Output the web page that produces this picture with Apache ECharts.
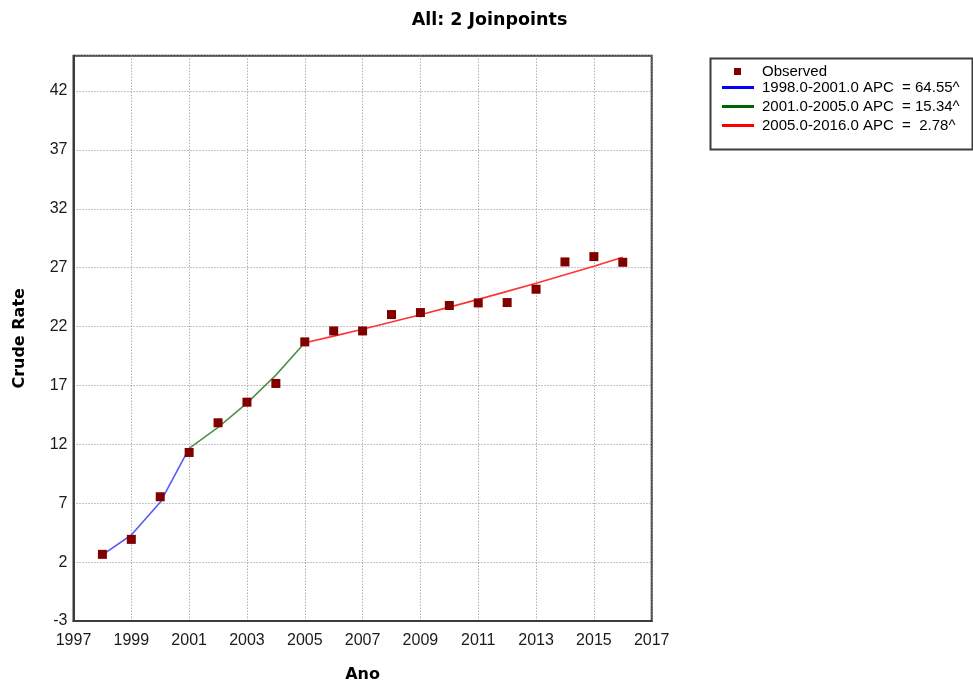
<!DOCTYPE html>
<html>
<head>
<meta charset="utf-8">
<title>All: 2 Joinpoints</title>
<script src="https://cdn.jsdelivr.net/npm/echarts@6/dist/echarts.min.js"></script>
<style>
  html, body { margin: 0; padding: 0; background: #ffffff; }
  #chart { width: 973px; height: 683px; }
</style>
</head>
<body>
<div id="chart"></div>
<script>
// Observed crude rates by year
const years = [1998, 1999, 2000, 2001, 2002, 2003, 2004, 2005, 2006, 2007,
               2008, 2009, 2010, 2011, 2012, 2013, 2014, 2015, 2016];
const observed = [2.66, 3.93, 7.55, 11.31, 13.83, 15.58, 17.17, 20.70, 21.63, 21.63,
                  23.02, 23.19, 23.79, 24.01, 24.04, 25.17, 27.49, 27.94, 27.46];

// Fitted joinpoint segments (year, modelled rate)
const seg1Years = [1998, 1999, 2000, 2001];
const seg1Fit = [2.61, 4.30, 7.08, 11.65];
const seg2Years = [2001, 2002, 2003, 2004, 2005];
const seg2Fit = [11.65, 13.44, 15.50, 17.88, 20.62];
const seg3Years = [2005, 2006, 2007, 2008, 2009, 2010, 2011, 2012, 2013, 2014, 2015, 2016];
const seg3Fit = [20.62, 21.19, 21.78, 22.39, 23.01, 23.65, 24.31, 24.99, 25.68, 26.40, 27.13, 27.89];

const segNames = [
  '1998.0-2001.0 APC  = 64.55^',
  '2001.0-2005.0 APC  = 15.34^',
  '2005.0-2016.0 APC  =  2.78^'
];
const legendColors = ['#0000ff', '#006400', '#ff0000'];
const plotColors = ['#5858ff', '#4f914f', '#ff3434'];
const markerColor = '#800000';

const zip = (xs, ys) => xs.map((x, i) => [x, ys[i]]);

const boldFont = "'DejaVu Sans', Verdana, sans-serif";
const plainFont = "'Liberation Sans', Arial, sans-serif";

const chart = echarts.init(document.getElementById('chart'), null, { renderer: 'canvas' });

const gridLine = { show: true, lineStyle: { color: '#8c8c8c', width: 1, type: [1, 2] } };

chart.setOption({
  animation: false,
  backgroundColor: '#ffffff',
  title: {
    text: 'All: 2 Joinpoints',
    left: 484.5,
    textAlign: 'center',
    top: 6,
    textStyle: { fontFamily: boldFont, fontWeight: 'bold', fontSize: 17.5, color: '#000' }
  },
  grid: {
    left: 73.5, top: 55.7, right: 321.3, bottom: 62,
    outerBoundsMode: 'none',
    show: true, borderColor: '#3c3c3c', borderWidth: 2, backgroundColor: 'transparent'
  },
  xAxis: {
    type: 'value',
    min: 1997, max: 2017, interval: 2,
    name: 'Ano',
    nameLocation: 'middle',
    nameGap: 46,
    nameTextStyle: { fontFamily: boldFont, fontWeight: 'bold', fontSize: 16, color: '#000' },
    axisLine: { show: true, onZero: false, lineStyle: { color: '#3c3c3c', width: 2 } },
    axisTick: { show: false },
    axisLabel: { margin: 12, fontFamily: plainFont, fontSize: 16, color: '#1a1a1a', formatter: v => String(v) },
    splitLine: gridLine
  },
  yAxis: {
    type: 'value',
    min: -3, max: 45, interval: 5,
    name: 'Crude Rate',
    nameLocation: 'middle',
    nameGap: 46,
    nameRotate: 90,
    nameTextStyle: { fontFamily: boldFont, fontWeight: 'bold', fontSize: 16, color: '#000' },
    axisLine: { show: true, onZero: false, lineStyle: { color: '#3c3c3c', width: 2 } },
    axisTick: { show: false },
    axisLabel: {
      margin: 6, fontFamily: plainFont, fontSize: 16, color: '#1a1a1a',
      formatter: v => (v === 45 ? '' : String(v))
    },
    splitLine: gridLine
  },
  legend: [
    {
      // marker entry for observed values
      data: [{ name: 'Observed', icon: 'rect', itemStyle: { color: markerColor, borderWidth: 0, opacity: 1 } }],
      orient: 'vertical',
      left: 734, top: 64,
      padding: 0,
      itemWidth: 7, itemHeight: 7,
      textStyle: { fontFamily: plainFont, fontSize: 15, color: '#000', padding: [0, 0, 0, 16] },
      selectedMode: false
    },
    {
      data: segNames.map((n, i) => ({
        name: n,
        icon: 'path://M0,0H32V3H0Z',
        itemStyle: { color: legendColors[i] }
      })),
      orient: 'vertical',
      left: 722, top: 80,
      padding: 0,
      itemWidth: 32, itemHeight: 15,
      itemGap: 4,
      textStyle: { fontFamily: plainFont, fontSize: 15, color: '#000', padding: [0, 0, 0, 3] },
      selectedMode: false
    }
  ],
  graphic: [
    {
      type: 'rect',
      left: 708, top: 56,
      shape: { width: 262, height: 91 },
      style: { fill: 'none', stroke: '#3c3c3c', lineWidth: 2 },
      silent: true,
      z: 10
    }
  ],
  series: [
    {
      name: segNames[0], type: 'line', data: zip(seg1Years, seg1Fit),
      symbol: 'none', lineStyle: { color: plotColors[0], width: 1.6 },
      itemStyle: { color: plotColors[0] }, z: 2
    },
    {
      name: segNames[1], type: 'line', data: zip(seg2Years, seg2Fit),
      symbol: 'none', lineStyle: { color: plotColors[1], width: 1.6 },
      itemStyle: { color: plotColors[1] }, z: 2
    },
    {
      name: segNames[2], type: 'line', data: zip(seg3Years, seg3Fit),
      symbol: 'none', lineStyle: { color: plotColors[2], width: 1.6 },
      itemStyle: { color: plotColors[2] }, z: 2
    },
    {
      name: 'Observed', type: 'scatter', data: zip(years, observed),
      symbol: 'rect', symbolSize: 9,
      itemStyle: { color: markerColor, opacity: 1 },
      z: 5
    }
  ]
});
</script>
</body>
</html>
